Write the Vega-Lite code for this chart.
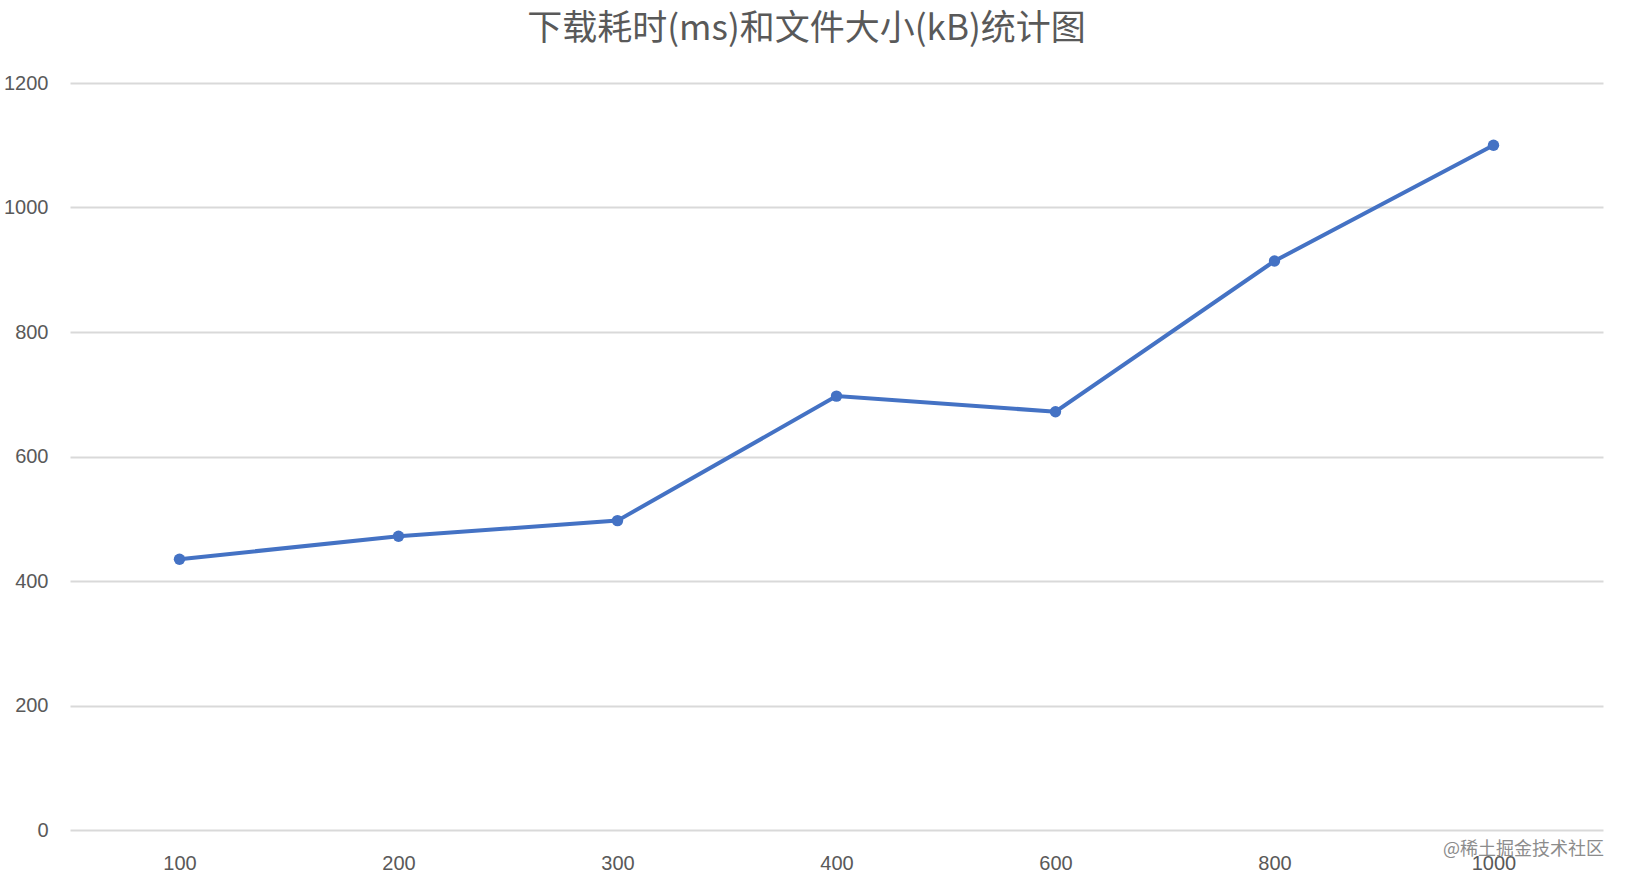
{
  "$schema": "https://vega.github.io/schema/vega-lite/v6.json",
  "width": 1533,
  "height": 747,
  "autosize": {"type": "none"},
  "padding": {"left": 70, "top": 83, "right": 23, "bottom": 56},
  "background": "white",
  "config": {"view": {"stroke": null}},
  "title": {
    "text": "下载耗时(ms)和文件大小(kB)统计图",
    "font": "Noto Sans CJK SC",
    "fontSize": 35,
    "fontWeight": "normal",
    "color": "#595959",
    "anchor": "middle",
    "offset": 26,
    "dx": -30
  },
  "data": {
    "values": [
      {"size": "100", "time": 435, "note": ""},
      {"size": "200", "time": 472, "note": ""},
      {"size": "300", "time": 497, "note": ""},
      {"size": "400", "time": 697, "note": ""},
      {"size": "600", "time": 672, "note": ""},
      {"size": "800", "time": 914, "note": ""},
      {"size": "1000", "time": 1100, "note": "@稀土掘金技术社区"}
    ]
  },
  "encoding": {
    "x": {
      "field": "size",
      "type": "ordinal",
      "sort": null,
      "scale": {"type": "point", "padding": 0.5},
      "axis": {
        "title": null,
        "grid": false,
        "domain": false,
        "ticks": false,
        "labelAngle": 0,
        "labelFont": "Liberation Sans",
        "labelFontSize": 20,
        "labelColor": "#595959",
        "labelPadding": 23
      }
    }
  },
  "layer": [
    {
      "mark": {"type": "line", "color": "#4472C4", "strokeWidth": 4},
      "encoding": {
        "y": {
          "field": "time",
          "type": "quantitative",
          "scale": {"domain": [0, 1200], "nice": false},
          "axis": {
            "title": null,
            "values": [0, 200, 400, 600, 800, 1000, 1200],
            "format": "d",
            "domain": false,
            "ticks": false,
            "labelFont": "Liberation Sans",
            "labelFontSize": 20,
            "labelColor": "#595959",
            "labelPadding": 22,
            "gridColor": "#d9d9d9",
            "gridWidth": 2
          }
        }
      }
    },
    {
      "mark": {"type": "circle", "color": "#4472C4", "size": 130, "opacity": 1},
      "encoding": {"y": {"field": "time", "type": "quantitative"}}
    },
    {
      "mark": {
        "type": "text",
        "font": "Noto Sans CJK SC",
        "fontSize": 18,
        "color": "#8c8c8c",
        "dx": 30,
        "dy": 20
      },
      "encoding": {
        "y": {"datum": 0, "type": "quantitative"},
        "text": {"field": "note", "type": "nominal"}
      }
    }
  ]
}
